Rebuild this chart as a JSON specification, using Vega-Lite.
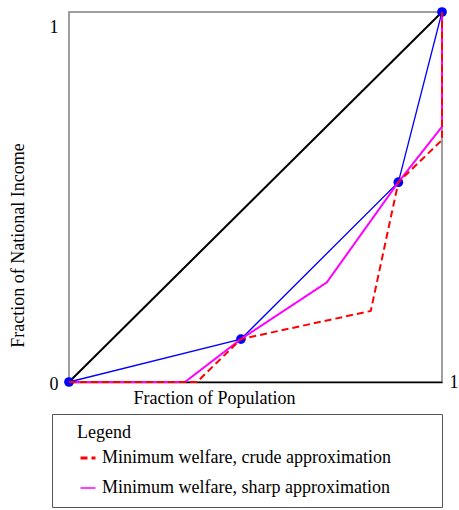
{
  "$schema": "https://vega.github.io/schema/vega-lite/v6.json",
  "width": 373,
  "height": 370,
  "autosize": {"type": "none"},
  "padding": {"left": 69, "top": 12, "right": 17, "bottom": 128},
  "config": {
    "font": "Liberation Serif",
    "view": {"stroke": "#808080", "strokeWidth": 1.5},
    "axis": {"grid": false, "labelFont": "Liberation Serif", "titleFont": "Liberation Serif", "labelFontSize": 18, "titleFontSize": 18, "labelColor": "black", "titleColor": "black", "titleFontWeight": "normal"}
  },
  "layer": [
    {
      "data": {"values": [{"x": 0, "y": 0, "o": 1}, {"x": 1, "y": 1, "o": 2}]},
      "mark": {"type": "line", "color": "black", "strokeWidth": 2},
      "encoding": {
        "x": {"field": "x", "type": "quantitative", "scale": {"domain": [0, 1]},
          "axis": {"values": [1], "format": "d", "ticks": false, "tickSize": 0, "domainColor": "black", "domainWidth": 1.5,
            "labelAlign": "left", "labelBaseline": "middle", "labelPadding": 0, "labelOffset": 7,
            "title": "Fraction of Population", "titleX": 145, "titleY": 21, "titleAlign": "center", "titleBaseline": "alphabetic"}},
        "y": {"field": "y", "type": "quantitative", "scale": {"domain": [0, 1]},
          "axis": {"values": [0, 1], "format": "d", "ticks": false, "tickSize": 0, "domain": false,
            "labelAlign": "right", "labelBaseline": "middle", "labelPadding": 11,
            "labelOffset": {"condition": {"test": "datum.value == 1", "value": 15}, "value": 2},
            "title": "Fraction of National Income", "titleX": -51, "titleY": 233, "titleAlign": "center", "titleBaseline": "middle", "titleAngle": -90}},
        "order": {"field": "o", "type": "quantitative"}
      }
    },
    {
      "data": {"values": [
        {"x": 0, "y": 0, "o": 1},
        {"x": 0.461, "y": 0.116, "o": 2},
        {"x": 0.883, "y": 0.54, "o": 3},
        {"x": 1, "y": 1, "o": 4}
      ]},
      "layer": [
        {"mark": {"type": "line", "color": "#0000ff", "strokeWidth": 1.3},
         "encoding": {"x": {"field": "x", "type": "quantitative"}, "y": {"field": "y", "type": "quantitative"}, "order": {"field": "o", "type": "quantitative"}}},
        {"mark": {"type": "point", "filled": true, "color": "#0000ff", "size": 95, "opacity": 1},
         "encoding": {"x": {"field": "x", "type": "quantitative"}, "y": {"field": "y", "type": "quantitative"}}}
      ]
    },
    {
      "data": {"values": [
        {"series": "Minimum welfare, sharp approximation", "x": 0, "y": 0, "o": 1},
        {"series": "Minimum welfare, sharp approximation", "x": 0.311, "y": 0, "o": 2},
        {"series": "Minimum welfare, sharp approximation", "x": 0.461, "y": 0.116, "o": 3},
        {"series": "Minimum welfare, sharp approximation", "x": 0.691, "y": 0.269, "o": 4},
        {"series": "Minimum welfare, sharp approximation", "x": 0.883, "y": 0.54, "o": 5},
        {"series": "Minimum welfare, sharp approximation", "x": 1, "y": 0.69, "o": 6},
        {"series": "Minimum welfare, sharp approximation", "x": 1, "y": 1, "o": 7},
        {"series": "Minimum welfare, crude approximation", "x": 0, "y": 0, "o": 1},
        {"series": "Minimum welfare, crude approximation", "x": 0.343, "y": 0, "o": 2},
        {"series": "Minimum welfare, crude approximation", "x": 0.461, "y": 0.116, "o": 3},
        {"series": "Minimum welfare, crude approximation", "x": 0.809, "y": 0.192, "o": 4},
        {"series": "Minimum welfare, crude approximation", "x": 0.883, "y": 0.54, "o": 5},
        {"series": "Minimum welfare, crude approximation", "x": 1, "y": 0.654, "o": 6},
        {"series": "Minimum welfare, crude approximation", "x": 1, "y": 1, "o": 7}
      ]},
      "mark": {"type": "line", "strokeWidth": 2},
      "encoding": {
        "x": {"field": "x", "type": "quantitative"},
        "y": {"field": "y", "type": "quantitative"},
        "order": {"field": "o", "type": "quantitative"},
        "color": {"field": "series", "type": "nominal", "title": "Legend",
          "scale": {"domain": ["Minimum welfare, crude approximation", "Minimum welfare, sharp approximation"], "range": ["#ff0000", "#ff00ff"]},
          "legend": {"orient": "none", "legendX": -17, "legendY": 402, "padding": 10,
            "strokeColor": "#555555", "fillColor": "white",
            "titleFont": "Liberation Serif", "titleFontSize": 18, "titleFontWeight": "normal", "titleColor": "black", "titlePadding": 7,
            "labelFont": "Liberation Serif", "labelFontSize": 18, "labelColor": "black", "labelLimit": 600, "labelOffset": 5,
            "labelExpr": "datum.label + '\u00a0\u00a0\u00a0\u00a0\u00a0\u00a0\u00a0\u00a0\u00a0\u200b'",
            "symbolType": "stroke", "symbolSize": 225, "symbolStrokeWidth": 2.8, "symbolOffset": 17, "rowPadding": 12,
            "encode": {"title": {"update": {"dx": {"value": 15}}}}}},
        "strokeDash": {"field": "series", "type": "nominal", "title": "Legend",
          "scale": {"domain": ["Minimum welfare, crude approximation", "Minimum welfare, sharp approximation"], "range": [[7, 4], [1, 0]]}},
        "strokeWidth": {"field": "series", "type": "nominal", "legend": null,
          "scale": {"type": "ordinal", "domain": ["Minimum welfare, crude approximation", "Minimum welfare, sharp approximation"], "range": [2.8, 1.4]}}
      }
    }
  ]
}
